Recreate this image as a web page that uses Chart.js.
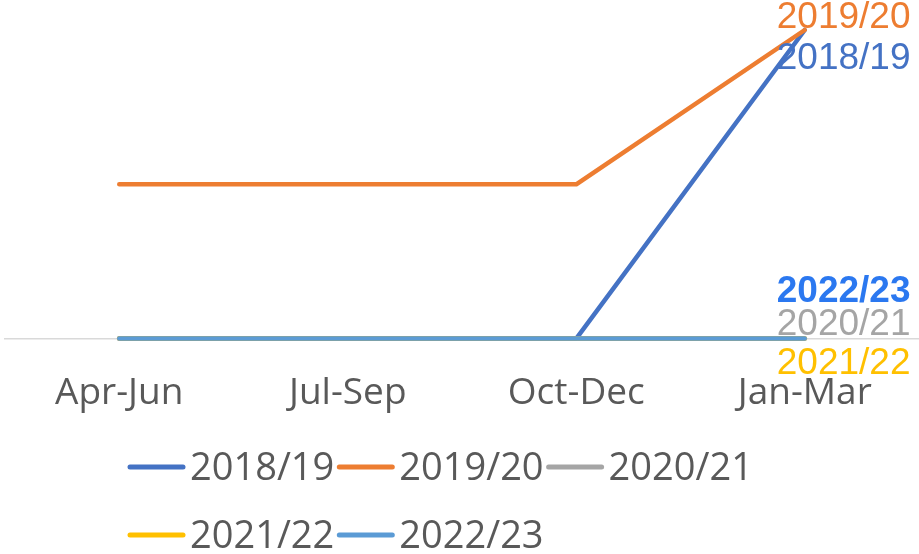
<!DOCTYPE html>
<html>
<head>
<meta charset="utf-8">
<script src="https://cdn.jsdelivr.net/npm/chart.js@4"></script>
<style>
  html, body { margin: 0; padding: 0; background: #fff; }
  canvas { display: block; }
</style>
</head>
<body>
<canvas id="myChart" width="919" height="554"></canvas>
<script>
// datos del grafico
const quarters = ['Apr-Jun', 'Jul-Sep', 'Oct-Dec', 'Jan-Mar'];
const seasons = ['2018/19', '2019/20', '2020/21', '2021/22', '2022/23'];
const values1819 = [0, 0, 0, 2];
const values1920 = [1, 1, 1, 2];
const values2021 = [0, 0, 0, 0];
const values2122 = [0, 0, 0, 0];
const values2223 = [0, 0, 0, 0];

const seriesValues = [values1819, values1920, values2021, values2122, values2223];
const colores = ['#4472C4', '#ED7D31', '#A5A5A5', '#FFC000', '#5B9BD5'];

// etiquetas al final de cada linea (desplazamiento respecto al ultimo punto)
const etiquetasFinal = [
    { dy: 29, color: '#4472C4', bold: false },
    { dy: -12, color: '#ED7D31', bold: false },
    { dy: -14, color: '#A5A5A5', bold: false },
    { dy: 25, color: '#FFC000', bold: false },
    { dy: -47, color: '#2B78F0', bold: true }
];

const datasets = seasons.map((nombre, i) => ({
    label: nombre,
    data: seriesValues[i],
    borderColor: colores[i],
    backgroundColor: colores[i],
    borderWidth: 4.5,
    borderCapStyle: 'round',
    borderJoinStyle: 'round',
    pointRadius: 0,
    pointHoverRadius: 0,
    tension: 0,
    clip: false,
    order: seasons.length - i
}));

const endLabels = {
    id: 'endLabels',
    afterDatasetsDraw(chart) {
        const ctx = chart.ctx;
        ctx.save();
        ctx.textAlign = 'left';
        ctx.textBaseline = 'middle';
        chart.data.datasets.forEach((ds, i) => {
            const meta = chart.getDatasetMeta(i);
            const p = meta.data[meta.data.length - 1];
            const e = etiquetasFinal[i];
            ctx.font = (e.bold ? 'bold ' : '') + '37px "Liberation Sans", Arial, sans-serif';
            ctx.fillStyle = e.color;
            ctx.fillText(ds.label, p.x - 28, p.y + e.dy);
        });
        ctx.restore();
    }
};

// leyenda dibujada a mano (dos filas como en Excel)
const legendaPropia = {
    id: 'legendaPropia',
    afterDraw(chart) {
        const ctx = chart.ctx;
        const filas = [[0, 1, 2], [3, 4]];
        const filaY = [467, 535];
        ctx.save();
        ctx.font = '38px "Open Sans", sans-serif';
        ctx.textBaseline = 'middle';
        ctx.textAlign = 'left';
        filas.forEach((fila, r) => {
            let x = 130;
            fila.forEach(i => {
                const ds = chart.data.datasets[i];
                ctx.strokeStyle = ds.borderColor;
                ctx.lineWidth = 5;
                ctx.lineCap = 'round';
                ctx.beginPath();
                ctx.moveTo(x, filaY[r]);
                ctx.lineTo(x + 53, filaY[r]);
                ctx.stroke();
                ctx.fillStyle = '#595959';
                ctx.fillText(ds.label, x + 60, filaY[r] + 2);
                x += 60 + ctx.measureText(ds.label).width + 5;
            });
        });
        ctx.restore();
    }
};

const ctx = document.getElementById('myChart').getContext('2d');
const myChart = new Chart(ctx, {
    type: 'line',
    data: { labels: quarters, datasets },
    options: {
        responsive: false,
        animation: false,
        layout: { padding: { left: 5, right: -4, top: 30, bottom: 105 } },
        plugins: {
            legend: { display: false },
            tooltip: { enabled: false }
        },
        scales: {
            x: {
                offset: true,
                grid: { display: false, drawTicks: false },
                border: { display: true, color: '#D9D9D9', width: 1.5 },
                ticks: {
                    color: '#595959',
                    padding: 33,
                    maxRotation: 0,
                    font: { family: '"Open Sans", sans-serif', size: 37 }
                }
            },
            y: {
                display: false,
                min: 0,
                max: 2
            }
        }
    },
    plugins: [endLabels, legendaPropia]
});
</script>
</body>
</html>
